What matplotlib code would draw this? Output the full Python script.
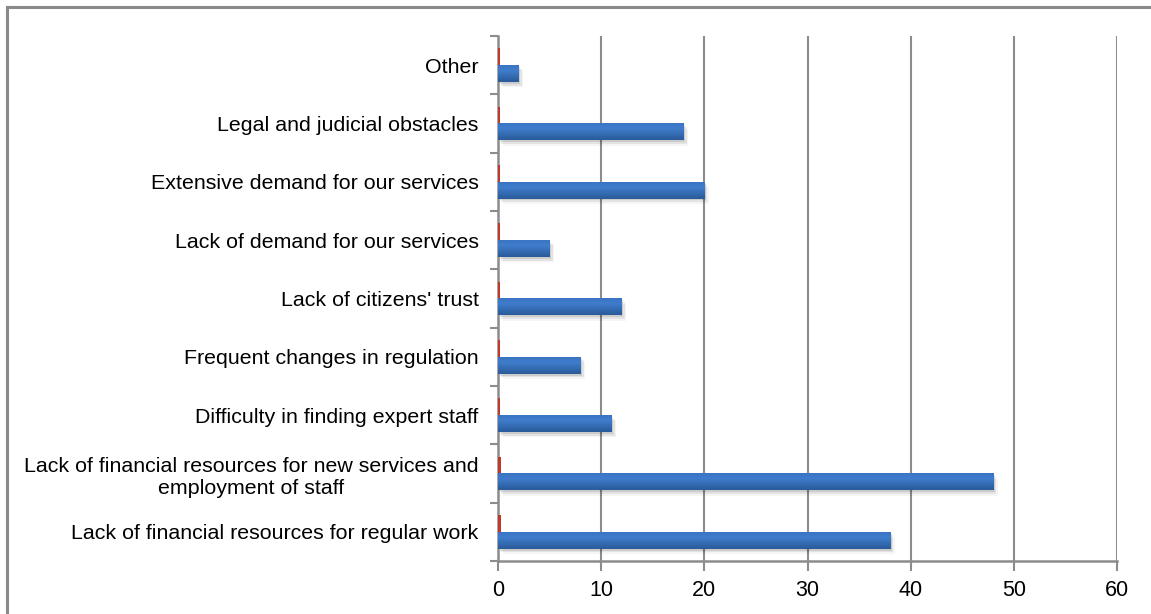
import matplotlib
matplotlib.use("Agg")
import matplotlib.pyplot as plt
import numpy as np
from matplotlib.lines import Line2D

plt.rcParams["font.family"] = ["Liberation Sans", "DejaVu Sans"]

# =====================================================
# DATA
# =====================================================
categories = [
    "Lack of financial resources for regular work",
    "Lack of financial resources for new services and\nemployment of staff",
    "Difficulty in finding expert staff",
    "Frequent changes in regulation",
    "Lack of citizens' trust",
    "Lack of demand for our services",
    "Extensive demand for our services",
    "Legal and judicial obstacles",
    "Other",
]
blue_values = [38, 48, 11, 8, 12, 5, 20, 18, 2]
red_values = [0.3, 0.3, 0.15, 0.15, 0.15, 0.15, 0.2, 0.2, 0.15]
x_ticks = [0, 10, 20, 30, 40, 50, 60]

GRID = "#8c8c8c"
BLUE_TOP = "#3f7dcd"
BLUE_BOT = "#2a5a99"
RED = "#c0392b"

# =====================================================
# FIGURE
# =====================================================
fig = plt.figure(figsize=(11.51, 6.14), dpi=100)
ax = fig.add_axes([0.4327, 0.0863, 0.9705 - 0.4327, 0.9414 - 0.0863])

# outer chart frame (top and left visible)
fig.add_artist(Line2D([7 / 1151, 1.0], [1 - 7 / 614] * 2, color="#8a8a8a", lw=2.2,
                      transform=fig.transFigure))
fig.add_artist(Line2D([7 / 1151] * 2, [0, 1 - 7 / 614], color="#8a8a8a", lw=2.2,
                      transform=fig.transFigure))

y = np.arange(len(categories))
h = 0.29

# soft shadows under the blue bars
for k, a in enumerate([0.10, 0.07, 0.04]):
    ax.barh(y - h / 2 - 0.03 * (k + 1), blue_values, height=h, left=0.15 * (k + 1),
            color="#000000", alpha=a, zorder=2, linewidth=0)

blue = ax.barh(y - h / 2, blue_values, height=h, color=BLUE_TOP, zorder=3, linewidth=0)
ax.barh(y + h / 2, red_values, height=h, color=RED, zorder=3, linewidth=0)

# vertical gradient inside blue bars
grad = np.linspace(0, 1, 64).reshape(-1, 1)
cmap = matplotlib.colors.LinearSegmentedColormap.from_list(
    "b", [(0, BLUE_BOT), (0.7, BLUE_TOP), (1, "#3a74c2")])
for r in blue.patches:
    x0, y0 = r.get_x(), r.get_y()
    ax.imshow(grad, extent=(x0, x0 + r.get_width(), y0, y0 + r.get_height()),
              origin="lower", cmap=cmap, aspect="auto", zorder=3.5,
              interpolation="bicubic")

ax.set_xlim(0, 60)
ax.set_ylim(-0.5, len(categories) - 0.5)
ax.set_xticks(x_ticks)
ax.set_xticklabels([str(v) for v in x_ticks], fontsize=15.5)

ax.set_yticks(y)
ax.set_yticklabels(categories, fontsize=15.4, multialignment="center")
ax.tick_params(axis="y", which="major", length=0, pad=14)
ax.set_yticks(np.arange(-0.5, len(categories), 1), minor=True)
ax.tick_params(axis="y", which="minor", length=6, width=1.5, color=GRID)
ax.tick_params(axis="x", length=7, width=1.5, color=GRID, pad=7)

ax.grid(axis="x", color=GRID, lw=1.5, zorder=0)
ax.set_axisbelow(True)
for s in ["top", "right"]:
    ax.spines[s].set_visible(False)
for s in ["left", "bottom"]:
    ax.spines[s].set_color(GRID)
    ax.spines[s].set_linewidth(1.8)

fig.savefig("out.png", dpi=100)
